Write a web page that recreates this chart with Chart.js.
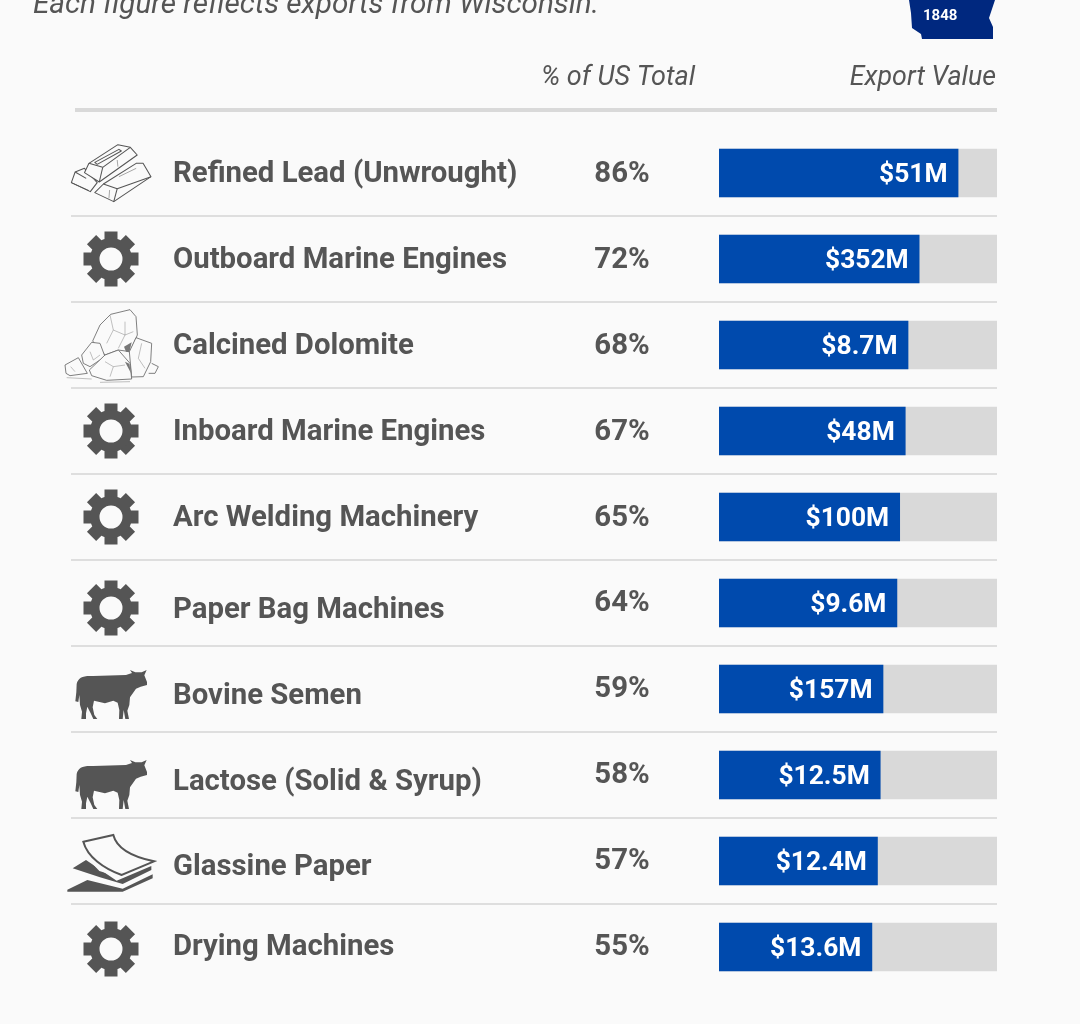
<!DOCTYPE html>
<html>
<head>
<meta charset="utf-8">
<title>Wisconsin exports</title>
<script src="https://cdn.jsdelivr.net/npm/chart.js@4/dist/chart.umd.min.js"></script>
<style>
html, body { margin: 0; padding: 0; background: #fafafa; overflow: hidden; }
canvas { display: block; }
</style>
</head>
<body>
<canvas id="chart-area" width="1080" height="1024"></canvas>
<script>
// values
var products = ['Refined Lead (Unwrought)', 'Outboard Marine Engines', 'Calcined Dolomite', 'Inboard Marine Engines', 'Arc Welding Machinery', 'Paper Bag Machines', 'Bovine Semen', 'Lactose (Solid & Syrup)', 'Glassine Paper', 'Drying Machines'];
var usShare = [86, 72, 68, 67, 65, 64, 59, 58, 57, 55];
var exportValue = [51, 352, 8.7, 48, 100, 9.6, 157, 12.5, 12.4, 13.6];
var fullShare = [100, 100, 100, 100, 100, 100, 100, 100, 100, 100];
var icons = ['ingot', 'gear', 'rock', 'gear', 'gear', 'gear', 'cow', 'cow', 'paper', 'gear'];

var INK = '#555555';
var BLUE = '#004aad';
var TRACK = '#d9d9d9';

// the source nudges a few row texts off the bar centre
var nameNudge = [-1, -1, -1, -1, -1, 5, 5, 5, 4, -2];
var shareNudge = [-1, -1, -1, -1, -1, -2, -2, -2, -2, -2];
var iconNudge = [0, 0, 0, 0, 0, 5, 0, 4, 0, 2];

function gear(ctx, cx, cy) {
    var teeth = 8, i, a;
    ctx.fillStyle = INK;
    ctx.beginPath();
    for (i = 0; i < teeth; i++) {
        a = i * Math.PI * 2 / teeth;
        ctx.save();
        ctx.translate(cx, cy);
        ctx.rotate(a);
        ctx.rect(-6.5, -27.5, 13, 12);
        ctx.restore();
    }
    ctx.fill();
    ctx.beginPath();
    ctx.arc(cx, cy, 21, 0, Math.PI * 2);
    ctx.arc(cx, cy, 11.5, 0, Math.PI * 2, true);
    ctx.fill();
}

function poly(ctx, pts, close) {
    ctx.beginPath();
    pts.forEach(function(p, i) {
        if (i === 0) ctx.moveTo(p[0], p[1]);
        else ctx.lineTo(p[0], p[1]);
    });
    if (close) ctx.closePath();
}

// icon sketches are in 3x units, origin at the row centre
function cow(ctx, cx, cy) {
    ctx.save();
    ctx.translate(cx, cy);
    ctx.scale(1 / 3, 1 / 3);
    ctx.translate(-183, -87);
    ctx.fillStyle = INK;
    ctx.beginPath();
    ctx.moveTo(80, 72);
    ctx.bezierCurveTo(84, 52, 100, 46, 130, 48);
    ctx.lineTo(228, 45);
    ctx.lineTo(246, 39);
    ctx.lineTo(240, 30);
    ctx.lineTo(256, 37);
    ctx.lineTo(275, 37);
    ctx.lineTo(290, 30);
    ctx.lineTo(283, 46);
    ctx.lineTo(291, 66);
    ctx.lineTo(291, 75);
    ctx.lineTo(272, 80);
    ctx.lineTo(258, 86);
    ctx.lineTo(240, 112);
    ctx.lineTo(238, 135);
    ctx.lineTo(232, 152);
    ctx.lineTo(237, 177);
    ctx.lineTo(226, 177);
    ctx.lineTo(221, 150);
    ctx.lineTo(218, 177);
    ctx.lineTo(207, 177);
    ctx.lineTo(208, 150);
    ctx.lineTo(203, 128);
    ctx.lineTo(190, 122);
    ctx.lineTo(165, 130);
    ctx.lineTo(132, 122);
    ctx.lineTo(128, 142);
    ctx.lineTo(133, 165);
    ctx.lineTo(142, 177);
    ctx.lineTo(130, 177);
    ctx.lineTo(122, 160);
    ctx.lineTo(112, 140);
    ctx.lineTo(108, 160);
    ctx.lineTo(108, 177);
    ctx.lineTo(94, 177);
    ctx.lineTo(96, 155);
    ctx.lineTo(90, 135);
    ctx.lineTo(88, 105);
    ctx.lineTo(85, 126);
    ctx.lineTo(76, 124);
    ctx.lineTo(79, 96);
    ctx.closePath();
    ctx.fill();
    ctx.restore();
}

function ingot(ctx, cx, cy) {
    ctx.save();
    ctx.translate(cx, cy);
    ctx.scale(1 / 2.9, 1 / 3);
    ctx.translate(-322, -519);
    ctx.strokeStyle = INK;
    ctx.lineWidth = 3;
    ctx.lineJoin = 'round';
    // small one behind
    poly(ctx, [[207, 548], [218, 516], [245, 505], [282, 548], [262, 575]], true); ctx.stroke();
    poly(ctx, [[218, 516], [250, 535]]); ctx.stroke();
    poly(ctx, [[207, 548], [258, 572]]); ctx.stroke();
    // top one
    ctx.fillStyle = '#fafafa';
    poly(ctx, [[258, 490], [342, 434], [378, 442], [398, 465], [288, 546], [245, 518]], true); ctx.fill(); ctx.stroke();
    poly(ctx, [[258, 490], [298, 502], [378, 442]]); ctx.stroke();
    poly(ctx, [[298, 502], [288, 546]]); ctx.stroke();
    poly(ctx, [[275, 487], [345, 448], [352, 453], [282, 493]], true); ctx.stroke();
    // front one
    poly(ctx, [[300, 552], [395, 490], [415, 490], [438, 530], [330, 605], [275, 578]], true); ctx.fill(); ctx.stroke();
    poly(ctx, [[300, 552], [340, 566], [438, 530]]); ctx.stroke();
    poly(ctx, [[340, 566], [330, 605]]); ctx.stroke();
    ctx.lineWidth = 1.5;
    poly(ctx, [[318, 570], [316, 595]]); ctx.stroke();
    poly(ctx, [[345, 530], [395, 505]]); ctx.stroke();
    poly(ctx, [[340, 480], [342, 500]]); ctx.stroke();
    ctx.restore();
}

function rock(ctx, cx, cy) {
    ctx.save();
    ctx.translate(cx, cy);
    ctx.scale(1 / 3, 1 / 3);
    ctx.translate(-183, -130);
    ctx.strokeStyle = '#666666';
    ctx.fillStyle = '#fafafa';
    ctx.lineWidth = 2.5;
    ctx.lineJoin = 'round';
    poly(ctx, [[128, 118], [150, 70], [182, 38], [240, 24], [258, 45], [262, 100], [240, 150], [205, 145], [165, 160]], true); ctx.fill(); ctx.stroke();
    poly(ctx, [[258, 108], [305, 125], [302, 180], [280, 225], [245, 226], [238, 150]], true); ctx.fill(); ctx.stroke();
    poly(ctx, [[305, 185], [325, 195], [315, 215], [296, 215]]); ctx.stroke();
    poly(ctx, [[45, 190], [85, 168], [112, 215], [60, 222], [48, 215]], true); ctx.fill(); ctx.stroke();
    poly(ctx, [[95, 160], [125, 122], [150, 125], [165, 165], [120, 195], [100, 185]], true); ctx.fill(); ctx.stroke();
    poly(ctx, [[118, 205], [165, 160], [205, 145], [240, 185], [245, 232], [170, 236], [125, 222]], true); ctx.fill(); ctx.stroke();
    // cracks and ground
    ctx.lineWidth = 1.2;
    poly(ctx, [[180, 40], [190, 85], [170, 125]]); ctx.stroke();
    poly(ctx, [[190, 85], [225, 100], [205, 140]]); ctx.stroke();
    poly(ctx, [[225, 60], [225, 100], [250, 90]]); ctx.stroke();
    poly(ctx, [[275, 125], [265, 170], [285, 200]]); ctx.stroke();
    poly(ctx, [[120, 150], [130, 175], [150, 160]]); ctx.stroke();
    poly(ctx, [[165, 180], [190, 195], [180, 225]]); ctx.stroke();
    poly(ctx, [[190, 195], [225, 190]]); ctx.stroke();
    poly(ctx, [[62, 195], [75, 210]]); ctx.stroke();
    poly(ctx, [[50, 228], [125, 232]]); ctx.stroke();
    poly(ctx, [[150, 242], [240, 240]]); ctx.stroke();
    ctx.fillStyle = '#777777';
    poly(ctx, [[222, 135], [245, 122], [238, 152], [228, 150]], true); ctx.fill();
    poly(ctx, [[225, 180], [238, 186], [243, 215]], true); ctx.fill();
    ctx.restore();
}

function paper(ctx, cx, cy) {
    ctx.save();
    ctx.translate(cx, cy);
    ctx.scale(1 / 3, 1 / 3);
    ctx.translate(-183, -603);
    ctx.fillStyle = INK;
    poly(ctx, [[52, 689], [112, 660], [218, 686], [308, 643], [308, 655], [218, 695], [52, 695]], true); ctx.fill();
    poly(ctx, [[68, 625], [108, 600], [200, 662], [304, 618], [304, 630], [218, 672], [150, 652]], true); ctx.fill();
    ctx.strokeStyle = '#fafafa';
    ctx.lineWidth = 7;
    ctx.fillStyle = '#fafafa';
    poly(ctx, [[100, 545], [190, 525], [205, 565], [312, 605], [215, 650], [150, 630], [112, 590]], true); ctx.fill(); ctx.stroke();
    ctx.strokeStyle = INK;
    ctx.lineWidth = 6;
    ctx.beginPath();
    ctx.moveTo(100, 545);
    ctx.lineTo(190, 525);
    ctx.bezierCurveTo(200, 565, 245, 590, 312, 604);
    ctx.lineTo(215, 645);
    ctx.bezierCurveTo(160, 625, 112, 590, 100, 545);
    ctx.closePath();
    ctx.stroke();
    ctx.restore();
}

var iconDraw = { gear: gear, cow: cow, ingot: ingot, rock: rock, paper: paper };

function text(ctx, str, x, y, font, color, align) {
    ctx.font = font;
    ctx.fillStyle = color;
    ctx.textAlign = align || 'left';
    ctx.textBaseline = 'middle';
    ctx.fillText(str, x, y);
}

var rowsPlugin = {
    id: 'rows',
    afterDatasetsDraw: function(chart) {
        var ctx = chart.ctx, x = chart.scales.x, y = chart.scales.y;
        var step = y.getPixelForValue(1) - y.getPixelForValue(0);
        var nameFont = '700 29.35px Roboto';
        var valueFont = '700 26.4px Roboto';
        ctx.save();

        // header
        text(ctx, 'Each figure reflects exports from Wisconsin.', 33, 6, 'italic 400 29.7px Roboto', INK);
        text(ctx, '% of US Total', 541, 78, 'italic 400 27px Roboto', INK);
        text(ctx, 'Export Value', x.right - 1, 78, 'italic 400 26.8px Roboto', INK, 'right');
        ctx.fillStyle = '#d9d9d9';
        ctx.fillRect(75, 108, x.right - 75, 4);

        // state badge cut by the top edge
        ctx.fillStyle = '#00287f';
        ctx.beginPath();
        ctx.moveTo(909, 0);
        ctx.lineTo(911, 13);
        ctx.lineTo(912, 28);
        ctx.lineTo(921, 34);
        ctx.lineTo(922, 39);
        ctx.lineTo(993, 39);
        ctx.lineTo(993, 27);
        ctx.lineTo(989, 18);
        ctx.lineTo(995, 0);
        ctx.closePath();
        ctx.fill();
        text(ctx, '1848', 923, 16, '700 15px Roboto', '#ffffff');

        products.forEach(function(name, i) {
            var cy = y.getPixelForValue(i);
            text(ctx, name, 173, cy + nameNudge[i] + 3, nameFont, INK);
            text(ctx, usShare[i] + '%', 622, cy + shareNudge[i] + 3, nameFont, INK, 'center');
            text(ctx, '$' + exportValue[i] + 'M', x.getPixelForValue(usShare[i]) - 10.5, cy + 2.5, valueFont, '#ffffff', 'right');
            iconDraw[icons[i]](ctx, 111, cy + iconNudge[i]);
            if (i < products.length - 1) {
                ctx.fillStyle = '#dedede';
                ctx.fillRect(71, cy + step / 2 - 1, x.right - 71, 2);
            }
        });
        ctx.restore();
    }
};

var config = {
    type: 'bar',
    data: {
        labels: products,
        datasets: [{
            label: '% of US Total',
            data: usShare,
            backgroundColor: BLUE,
            grouped: false,
            barThickness: 48,
            order: 1
        }, {
            label: 'Full scale',
            data: fullShare,
            backgroundColor: TRACK,
            grouped: false,
            barThickness: 48,
            order: 2
        }]
    },
    options: {
        indexAxis: 'y',
        responsive: false,
        animation: false,
        layout: { padding: { left: 719, right: 83, top: 130, bottom: 34 } },
        plugins: { legend: { display: false }, tooltip: { enabled: false } },
        scales: {
            x: { display: false, min: 0, max: 100 },
            y: { display: false }
        }
    },
    plugins: [rowsPlugin]
};

window.onload = function() {
    var ctx = document.getElementById('chart-area').getContext('2d');
    window.myChart = new Chart(ctx, config);
};
</script>
</body>
</html>
